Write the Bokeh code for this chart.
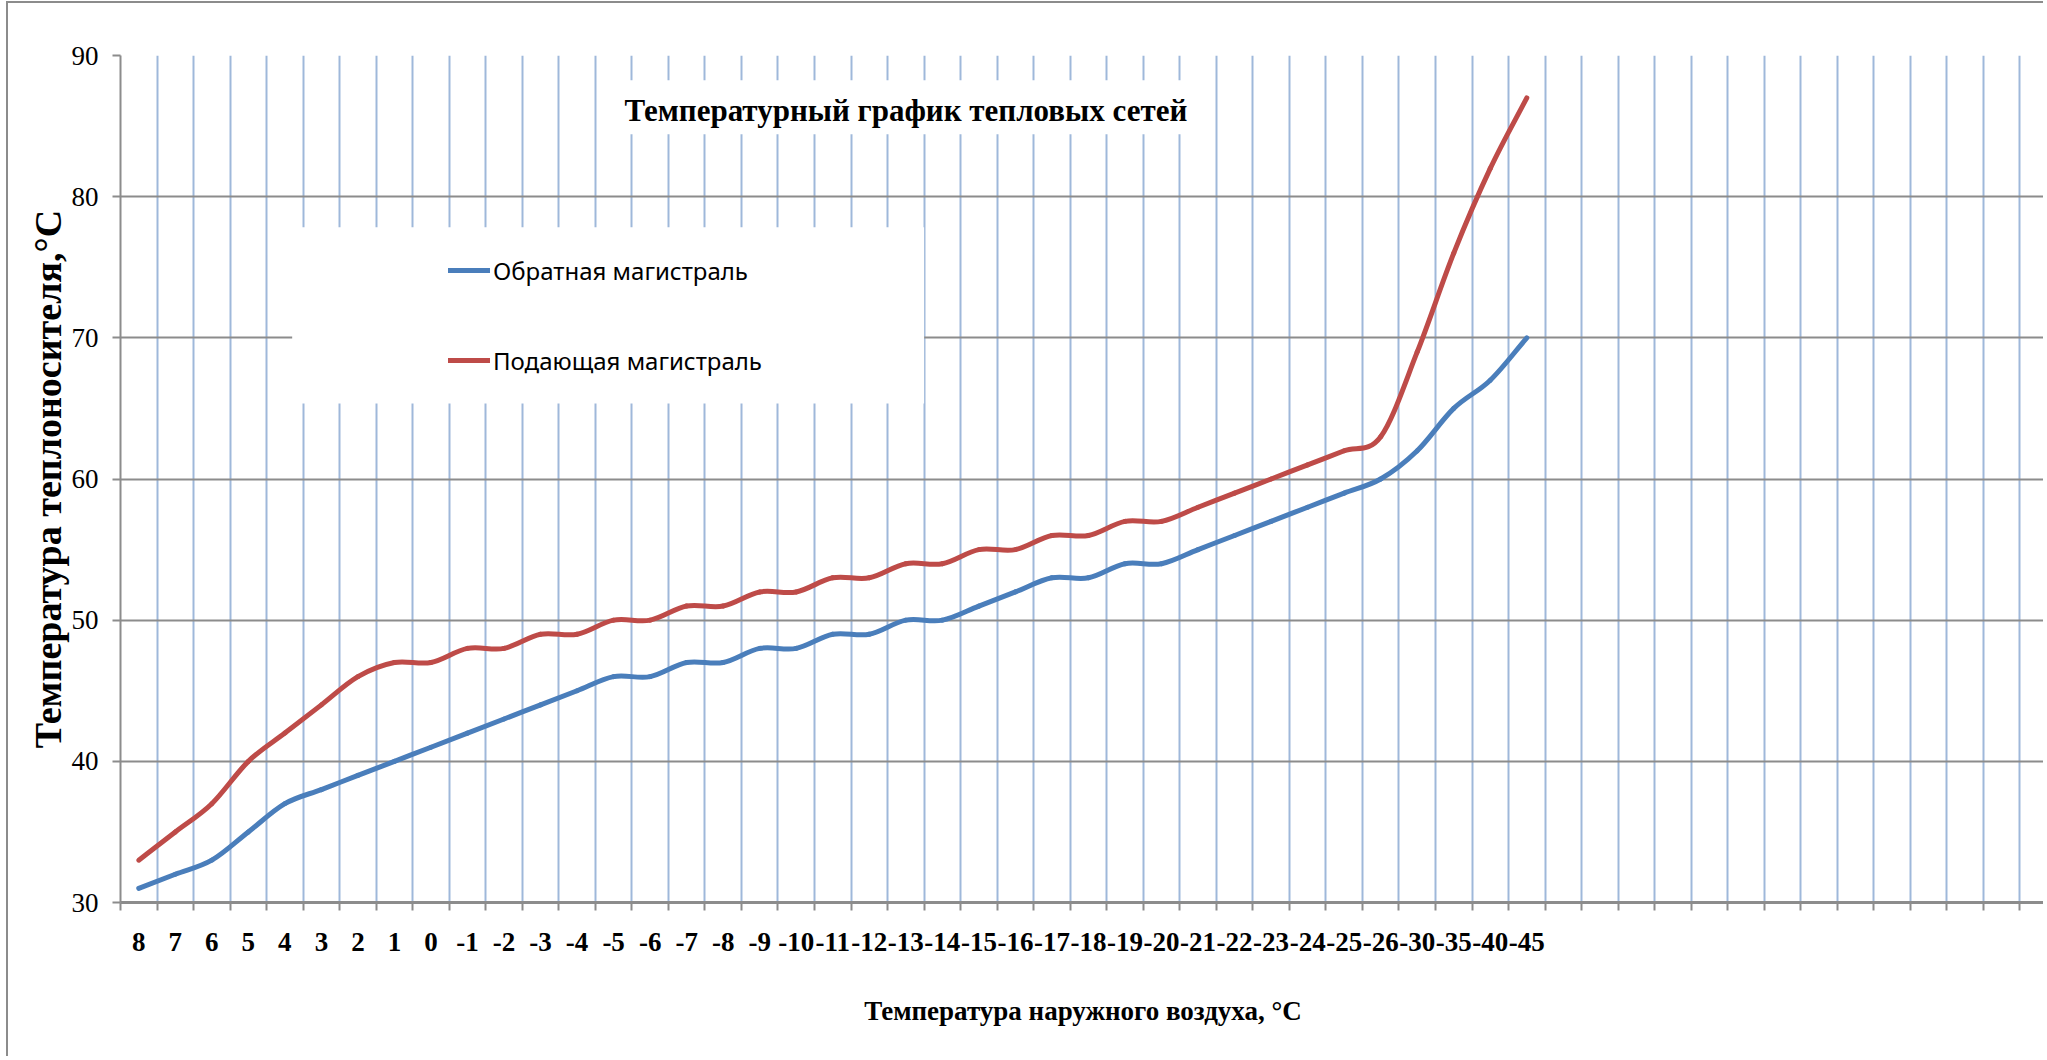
from bokeh.plotting import figure
from bokeh.models import (Range1d, FixedTicker, CustomJSTickFormatter, BoxAnnotation,
                          Label, Legend, LegendItem, ColumnDataSource)
from bokeh.embed import file_html
from bokeh.resources import INLINE

# ---------------- data ----------------
categories = ["8", "7", "6", "5", "4", "3", "2", "1", "0",
              "-1", "-2", "-3", "-4", "-5", "-6", "-7", "-8", "-9", "-10",
              "-11", "-12", "-13", "-14", "-15", "-16", "-17", "-18", "-19", "-20",
              "-21", "-22", "-23", "-24", "-25", "-26", "-30", "-35", "-40", "-45"]

return_line = [31, 32, 33, 35, 37, 38, 39, 40, 41,
               42, 43, 44, 45, 46, 46, 47, 47, 48, 48,
               49, 49, 50, 50, 51, 52, 53, 53, 54, 54,
               55, 56, 57, 58, 59, 60, 62, 65, 67, 70]

supply_line = [33, 35, 37, 40, 42, 44, 46, 47, 47,
               48, 48, 49, 49, 50, 50, 51, 51, 52, 52,
               53, 53, 54, 54, 55, 55, 56, 56, 57, 57,
               58, 59, 60, 61, 62, 63, 69, 76, 82, 87]

y_ticks = [30, 40, 50, 60, 70, 80, 90]
axis_slots = 53          # category slots drawn on the axis (Excel leaves empty ones)

series_names = ["Обратная магистраль", "Подающая магистраль"]
title_text = "Температурный график тепловых сетей"
x_title = "Температура наружного воздуха, °С"
y_title = "Температура теплоносителя,°С"

BLUE = "#4A7EBB"
RED = "#BE4B48"
GRID_V = "#9FB8DA"
GRID_H = "#8C8C8C"
AXIS = "#8C8C8C"
SERIF = "Liberation Serif"


def smooth_segments(values):
    """Bezier segments through the data points (Excel 'smoothed line' look)."""
    xs = [i + 0.5 for i in range(len(values))]
    n = len(values)

    def tan(i):
        if i == 0:
            return values[1] - values[0]
        if i == n - 1:
            return values[-1] - values[-2]
        return (values[i + 1] - values[i - 1]) / 2.0

    d = dict(x0=[], y0=[], x1=[], y1=[], cx0=[], cy0=[], cx1=[], cy1=[])
    for i in range(n - 1):
        d["x0"].append(xs[i]); d["y0"].append(values[i])
        d["x1"].append(xs[i + 1]); d["y1"].append(values[i + 1])
        d["cx0"].append(xs[i] + 1 / 3); d["cy0"].append(values[i] + tan(i) / 3)
        d["cx1"].append(xs[i + 1] - 1 / 3); d["cy1"].append(values[i + 1] - tan(i + 1) / 3)
    return ColumnDataSource(d)


W, H = 2037, 1055
x_end = 52.7

p = figure(width=W, height=H, output_backend="svg", toolbar_location=None,
           x_range=Range1d(0, x_end), y_range=Range1d(30, 90),
           min_border_left=112, min_border_top=52, min_border_bottom=156,
           min_border_right=0)
p.styles = {"border-left": "2px solid #8c8c8c", "border-top": "2px solid #8c8c8c",
            "margin-left": "6px", "margin-top": "1px"}
p.outline_line_color = None
p.background_fill_color = "white"
p.border_fill_color = "white"

# grids
p.xgrid.ticker = FixedTicker(ticks=list(range(0, axis_slots + 1)))
p.xgrid.grid_line_color = GRID_V
p.xgrid.grid_line_width = 2
p.ygrid.ticker = FixedTicker(ticks=y_ticks)
p.ygrid.grid_line_color = GRID_H
p.ygrid.grid_line_width = 2

# x axis: labels at category centres, tick marks at category boundaries
xa = p.xaxis[0]
xa.ticker = FixedTicker(ticks=[i + 0.5 for i in range(len(categories))],
                        minor_ticks=list(range(0, axis_slots + 1)))
xa.formatter = CustomJSTickFormatter(args=dict(labels=categories), code="""
    const i = Math.round(tick - 0.5);
    return (i >= 0 && i < labels.length) ? labels[i] : '';
""")
xa.major_tick_out = 0
xa.major_tick_in = 0
xa.minor_tick_out = 8
xa.minor_tick_in = 0
xa.minor_tick_line_color = AXIS
xa.minor_tick_line_width = 2
xa.axis_line_color = AXIS
xa.axis_line_width = 3
xa.major_label_text_font = SERIF
xa.major_label_text_font_style = "bold"
xa.major_label_text_font_size = "27px"
xa.major_label_text_color = "black"
xa.major_label_standoff = 22
xa.axis_label = x_title
xa.axis_label_text_font = SERIF
xa.axis_label_text_font_style = "bold"
xa.axis_label_text_font_size = "27px"
xa.axis_label_text_color = "black"
xa.axis_label_standoff = 42

ya = p.yaxis[0]
ya.ticker = FixedTicker(ticks=y_ticks)
ya.major_tick_out = 8
ya.major_tick_in = 0
ya.minor_tick_out = 0
ya.minor_tick_in = 0
ya.major_tick_line_color = AXIS
ya.major_tick_line_width = 2
ya.axis_line_color = AXIS
ya.axis_line_width = 2
ya.major_label_text_font = SERIF
ya.major_label_text_font_size = "27px"
ya.major_label_text_color = "black"
ya.major_label_standoff = 14
ya.axis_label = y_title
ya.axis_label_text_font = SERIF
ya.axis_label_text_font_style = "bold"
ya.axis_label_text_font_size = "38px"
ya.axis_label_text_color = "black"
ya.axis_label_standoff = 0

# curves
curves = []
for vals, col in ((return_line, BLUE), (supply_line, RED)):
    curves.append(p.bezier(x0="x0", y0="y0", x1="x1", y1="y1", cx0="cx0", cy0="cy0",
                           cx1="cx1", cy1="cy1", source=smooth_segments(vals),
                           line_color=col, line_width=5, line_cap="round"))

# white panels behind title and legend (interrupt gridlines as in the original)
p.add_layout(BoxAnnotation(left=13.55, right=29.57, top=88.25, bottom=84.42,
                           fill_color="white", fill_alpha=1, line_color=None))
p.add_layout(BoxAnnotation(left=4.7, right=22.0, top=77.83, bottom=65.35,
                           fill_color="white", fill_alpha=1, line_color=None))

p.add_layout(Label(x=21.5, y=86.1, text=title_text, text_align="center",
                   text_baseline="middle", text_font=SERIF, text_font_style="bold",
                   text_font_size="31px", text_color="black"))

# legend
legend = Legend(items=[LegendItem(label=series_names[0], renderers=[curves[0]]),
                       LegendItem(label=series_names[1], renderers=[curves[1]])],
                location=(328, 525), orientation="vertical",
                padding=0, margin=0, spacing=56,
                glyph_width=42, glyph_height=34, label_height=34,
                label_standoff=3,
                label_text_font="Noto Sans", label_text_font_size="24px",
                label_text_color="black",
                background_fill_alpha=0, border_line_color=None)
p.add_layout(legend)

open("out.html", "w").write(file_html(p, INLINE))
